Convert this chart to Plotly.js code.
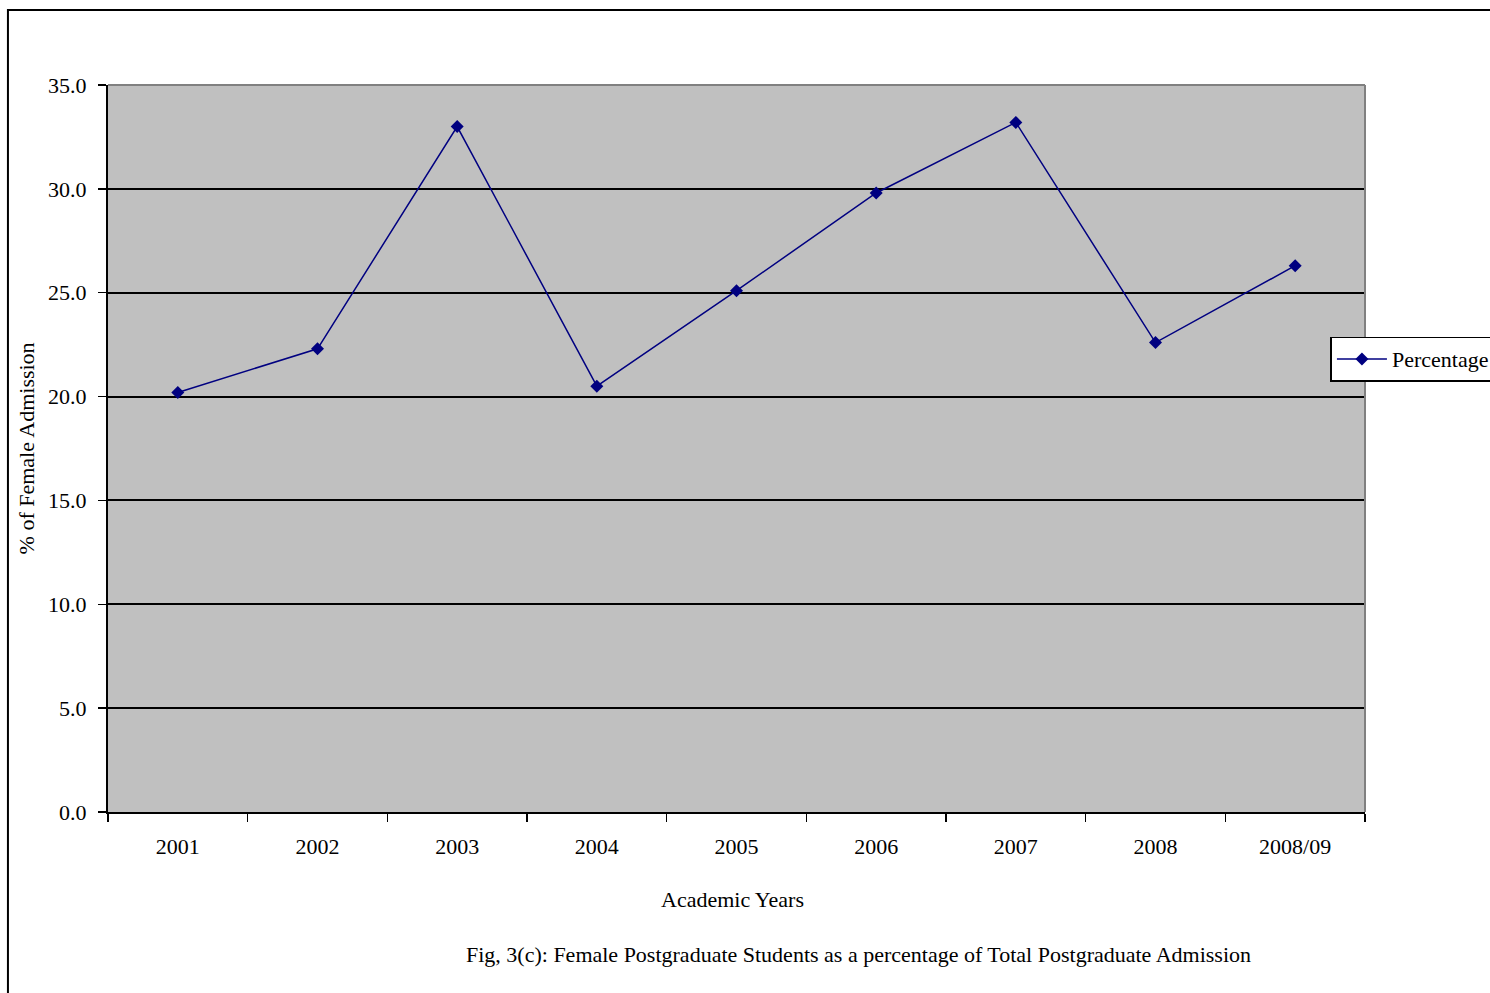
<!DOCTYPE html>
<html>
<head>
<meta charset="utf-8">
<script src="https://cdn.plot.ly/plotly-3.0.1.min.js"></script>
<style>html,body{margin:0;padding:0;background:#fff;overflow:hidden;}#chart{width:1490px;height:993px;}</style>
</head>
<body>
<div id="chart"></div>
<script>
const years = ["2001","2002","2003","2004","2005","2006","2007","2008","2008/09"];
const percentage = [20.2, 22.3, 33.0, 20.5, 25.1, 29.8, 33.2, 22.6, 26.3];
const yTicks = [0, 5, 10, 15, 20, 25, 30, 35];
const seriesName = "Percentage";
const xTitle = "Academic Years";
const yTitle = "% of Female Admission";
const caption = "Fig, 3(c): Female Postgraduate Students as a percentage of Total Postgraduate Admission";

const serif = "'Times New Roman', 'Liberation Serif', serif";
const fs = 22;

const trace = {
  x: years,
  y: percentage,
  type: "scatter",
  mode: "lines+markers",
  name: seriesName,
  line: {color: "#000080", width: 1.5},
  marker: {symbol: "diamond", size: 10, color: "#000080"}
};

const layout = {
  width: 1490,
  height: 993,
  margin: {l: 108, r: 125, t: 85, b: 181, autoexpand: false},
  paper_bgcolor: "#ffffff",
  plot_bgcolor: "#c0c0c0",
  font: {family: serif, color: "#000000", size: fs},
  showlegend: true,
  legend: {
    x: 0.9725, xanchor: "left",
    y: 0.623, yanchor: "middle",
    bgcolor: "#ffffff",
    bordercolor: "#000000",
    borderwidth: 1.5,
    itemwidth: 50,
    font: {family: serif, size: fs, color: "#000"}
  },
  xaxis: {
    type: "category",
    automargin: false,
    tickson: "boundaries",
    ticks: "outside",
    ticklen: 8,
    tickwidth: 1.5,
    tickcolor: "#000",
    ticklabelstandoff: 14,
    showline: true,
    linecolor: "#000",
    linewidth: 2,
    showgrid: false,
    zeroline: false,
    tickfont: {family: serif, size: fs, color: "#000"},
    range: [-0.5, 8.5]
  },
  yaxis: {
    range: [0, 35],
    automargin: false,
    tickvals: yTicks,
    tickformat: ".1f",
    ticks: "outside",
    ticklen: 8,
    tickwidth: 1.5,
    tickcolor: "#000",
    ticklabelstandoff: 7,
    showline: true,
    linecolor: "#000",
    linewidth: 2,
    showgrid: true,
    gridcolor: "#000",
    gridwidth: 2,
    zeroline: false,
    tickfont: {family: serif, size: fs, color: "#000"}
  },
  shapes: [
    {type: "line", xref: "paper", yref: "paper", x0: 0, x1: 1, y0: 1, y1: 1, line: {color: "#808080", width: 2}},
    {type: "line", xref: "paper", yref: "paper", x0: 1, x1: 1, y0: 0, y1: 1, line: {color: "#808080", width: 2}},
    {type: "rect", xref: "paper", yref: "paper", x0: -0.0796, x1: 1.3, y0: -0.5, y1: 1.1032, line: {color: "#000", width: 2}, fillcolor: "rgba(0,0,0,0)"}
  ],
  annotations: [
    {text: xTitle, xref: "paper", yref: "paper", x: 0.497, y: -0.12, xanchor: "center", yanchor: "middle", showarrow: false, font: {family: serif, size: fs, color: "#000"}},
    {text: yTitle, xref: "paper", yref: "paper", x: -0.0645, y: 0.5, xanchor: "center", yanchor: "middle", textangle: -90, showarrow: false, font: {family: serif, size: fs, color: "#000"}},
    {text: caption, xref: "paper", yref: "paper", x: 0.597, y: -0.1966, xanchor: "center", yanchor: "middle", showarrow: false, font: {family: serif, size: fs, color: "#000"}}
  ]
};

Plotly.newPlot("chart", [trace], layout, {displayModeBar: false, staticPlot: true});
</script>
</body>
</html>
